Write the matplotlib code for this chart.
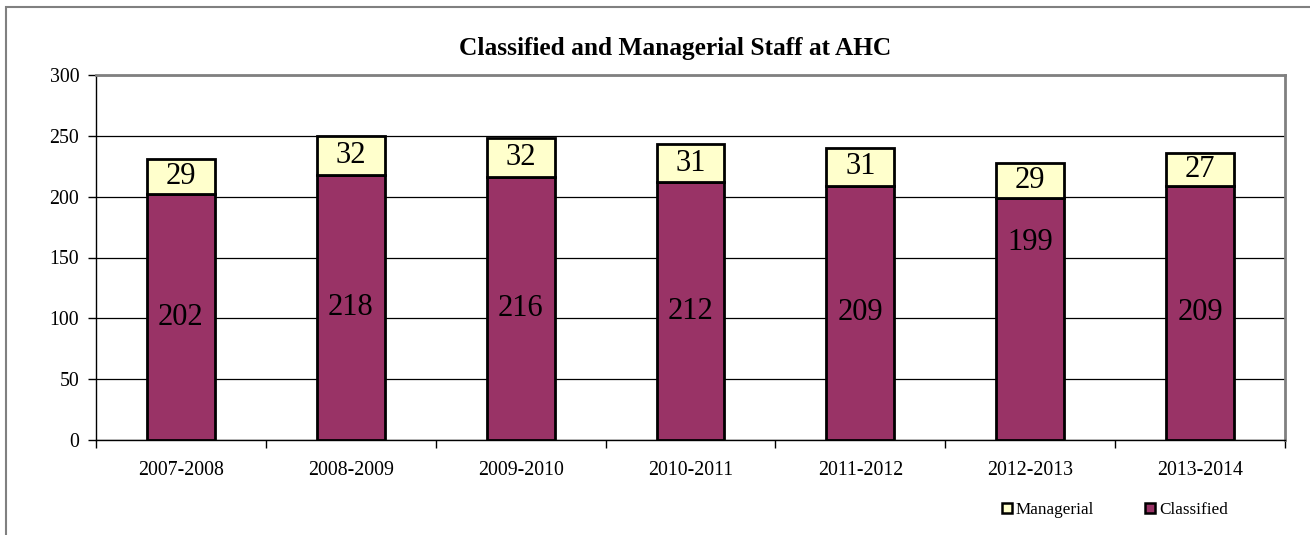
import matplotlib.pyplot as plt
from matplotlib.patches import Rectangle
from matplotlib.lines import Line2D

years = ["2007-2008", "2008-2009", "2009-2010", "2010-2011", "2011-2012", "2012-2013", "2013-2014"]
classified = [202, 218, 216, 212, 209, 199, 209]
managerial = [29, 32, 32, 31, 31, 29, 27]
# the 2012-2013 classified label sits higher than the middle in the original
classified_label_pos = [101, 109, 108, 106, 104.5, 162, 104.5]

plt.rcParams['font.family'] = ['Liberation Serif', 'DejaVu Serif']

fig = plt.figure(figsize=(13.1, 5.35), dpi=100)
W, H = 1310, 535
ax = fig.add_axes([96 / W, (H - 440) / H, 1189 / W, 365 / H])

# outer chart frame
fig.patches.append(Rectangle((6 / W, -0.1), 1.2, (H - 7) / H + 0.1, transform=fig.transFigure,
                             fill=False, edgecolor='#808080', linewidth=1.5))

x = list(range(len(years)))
ax.bar(x, classified, width=0.4, color='#993366', edgecolor='black', linewidth=2, zorder=3)
ax.bar(x, managerial, width=0.4, bottom=classified, color='#FFFFCC', edgecolor='black',
       linewidth=2, zorder=3)

for i in x:
    ax.text(i, classified_label_pos[i], str(classified[i]), ha='center', va='center',
            fontsize=22, zorder=4)
    ax.text(i, classified[i] + managerial[i] / 2, str(managerial[i]), ha='center', va='center',
            fontsize=22, zorder=4)

ax.set_xlim(-0.5, len(years) - 0.5)
ax.set_ylim(0, 300)
ax.set_yticks(range(0, 301, 50))
ax.yaxis.grid(True, color='black', linewidth=0.9)
ax.set_axisbelow(True)

ax.set_xticks(x)
ax.set_xticklabels(years, fontsize=14.3)
ax.set_xticks([i - 0.5 for i in range(len(years) + 1)], minor=True)
ax.tick_params(axis='x', which='major', length=0, pad=15)
ax.tick_params(axis='x', which='minor', length=6, width=1, color='black')
ax.tick_params(axis='y', length=6, width=1, labelsize=14.3, pad=6)

for side in ['left', 'bottom']:
    ax.spines[side].set_color('black')
    ax.spines[side].set_linewidth(1)
for side in ['top', 'right']:
    ax.spines[side].set_color('#808080')
    ax.spines[side].set_linewidth(2)

fig.text(675 / W, 1 - 55 / H, "Classified and Managerial Staff at AHC", fontsize=18.3,
         fontweight='bold', ha='center', va='baseline')

handles = [
    Line2D([], [], marker='s', linestyle='none', markersize=7, markerfacecolor='#FFFFCC',
           markeredgecolor='black', markeredgewidth=1.8),
    Line2D([], [], marker='s', linestyle='none', markersize=7, markerfacecolor='#993366',
           markeredgecolor='black', markeredgewidth=1.8),
]
fig.legend(handles, ["Managerial", "Classified"], loc='center', bbox_to_anchor=(1113 / W, 1 - 510 / H),
           ncol=2, frameon=False, prop={'family': 'Liberation Serif', 'size': 12.3},
           handletextpad=0.0, columnspacing=2.8, handlelength=1.0)

fig.savefig("out.png", dpi=100)
